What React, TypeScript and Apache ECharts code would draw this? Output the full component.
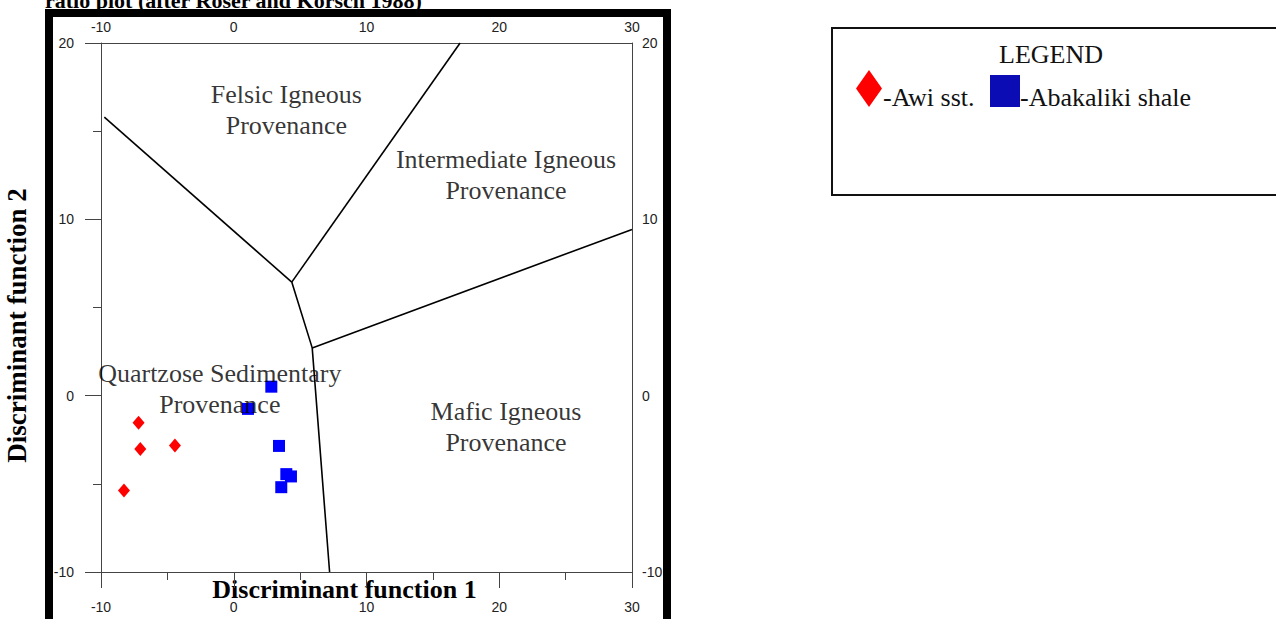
import { useEffect, useRef } from "react";
import * as echarts from "echarts";

// Axis ranges and tick step (tick labels -10..30 on X, -10..20 on Y)
const xRange: [number, number] = [-10, 30];
const yRange: [number, number] = [-10, 20];
const tickStep = 10;

// Sample points (Discriminant function 1, Discriminant function 2)
const awiSst: [number, number][] = [
  [-7.17, -1.53],
  [-7.04, -3.03],
  [-4.43, -2.83],
  [-8.27, -5.38],
];
const abakalikiShale: [number, number][] = [
  [2.83, 0.51],
  [1.07, -0.75],
  [3.41, -2.85],
  [3.96, -4.45],
  [4.31, -4.58],
  [3.58, -5.19],
];

// Field boundaries (Roser & Korsch 1988)
const felsicQuartzoseBoundary: [number, number][] = [
  [-9.75, 15.8],
  [4.37, 6.44],
];
const felsicIntermediateBoundary: [number, number][] = [
  [4.37, 6.44],
  [17.05, 20],
];
const sedimentaryMaficBoundary: [number, number][] = [
  [4.37, 6.44],
  [5.91, 2.71],
  [7.22, -10],
];
const intermediateMaficBoundary: [number, number][] = [
  [5.91, 2.71],
  [30, 9.43],
];

// Field names
const regionNames = [
  "Felsic Igneous\nProvenance",
  "Intermediate Igneous\nProvenance",
  "Quartzose Sedimentary\nProvenance",
  "Mafic Igneous\nProvenance",
];
const regionAnchors: [number, number][] = [
  [3.96, 16.22],
  [20.51, 12.53],
  [-1.05, 0.36],
  [20.51, -1.8],
];

const titleText = "ratio plot (after Roser and Korsch 1988)";
const xTitle = "Discriminant function 1";
const yTitle = "Discriminant function 2";
const seriesNames = ["Awi sst.", "Abakaliki shale"];

const SERIF = '"Times New Roman", "Liberation Serif", serif';
const SANS = 'Arial, "Liberation Sans", sans-serif';
const AXIS_COLOR = "#444";
const LABEL_COLOR = "#222";

export default function App() {
  const ref = useRef<HTMLDivElement>(null);

  useEffect(() => {
    if (!ref.current) return;
    const chart = echarts.init(ref.current, undefined, { renderer: "svg" });

    const labelStyle = {
      fontFamily: SANS,
      fontSize: 14,
      color: LABEL_COLOR,
    };

    const boundary = (data: [number, number][]) => ({
      type: "line",
      data,
      xAxisIndex: 0,
      yAxisIndex: 0,
      symbol: "none",
      lineStyle: { color: "#000", width: 1.6 },
      z: 3,
      silent: true,
    });

    chart.setOption({
      animation: false,
      backgroundColor: "#fff",
      grid: {
        left: 101,
        top: 43,
        right: 644,
        bottom: 47,
        containLabel: false,
        outerBoundsMode: "none",
      },
      xAxis: [
        {
          type: "value",
          position: "bottom",
          min: xRange[0],
          max: xRange[1],
          interval: tickStep,
          axisLine: { show: true, onZero: false, lineStyle: { color: AXIS_COLOR, width: 1 } },
          axisTick: { show: true, inside: false, length: 16, lineStyle: { color: AXIS_COLOR } },
          minorTick: { show: true, splitNumber: 2, length: 8, lineStyle: { color: AXIS_COLOR } },
          splitLine: { show: false },
          axisLabel: { ...labelStyle, margin: 28 },
          name: xTitle,
          nameLocation: "middle",
          nameGap: 4,
          nameMoveOverlap: false,
          nameTextStyle: {
            fontFamily: SERIF,
            fontWeight: "bold",
            fontSize: 26,
            color: "#000",
            padding: [0, 44, 0, 0],
          },
        },
        {
          type: "value",
          position: "top",
          min: xRange[0],
          max: xRange[1],
          interval: tickStep,
          axisLine: { show: true, onZero: false, lineStyle: { color: AXIS_COLOR, width: 1 } },
          axisTick: { show: false },
          splitLine: { show: false },
          axisLabel: { ...labelStyle, margin: 9 },
        },
      ],
      yAxis: [
        {
          type: "value",
          position: "left",
          min: yRange[0],
          max: yRange[1],
          interval: tickStep,
          axisLine: { show: true, onZero: false, lineStyle: { color: AXIS_COLOR, width: 1 } },
          axisTick: { show: true, inside: false, length: 16, lineStyle: { color: AXIS_COLOR } },
          minorTick: { show: true, splitNumber: 2, length: 8, lineStyle: { color: AXIS_COLOR } },
          splitLine: { show: false },
          axisLabel: { ...labelStyle, margin: 27 },
          name: yTitle,
          nameLocation: "middle",
          nameGap: 71,
          nameMoveOverlap: false,
          nameTextStyle: {
            fontFamily: SERIF,
            fontWeight: "bold",
            fontSize: 27,
            color: "#000",
            padding: [0, 36, 0, 0],
          },
        },
        {
          type: "value",
          position: "right",
          min: yRange[0],
          max: yRange[1],
          interval: tickStep,
          axisLine: { show: true, onZero: false, lineStyle: { color: AXIS_COLOR, width: 1 } },
          axisTick: { show: false },
          splitLine: { show: false },
          axisLabel: { ...labelStyle, margin: 10 },
        },
      ],
      series: [
        boundary(felsicQuartzoseBoundary),
        boundary(felsicIntermediateBoundary),
        boundary(sedimentaryMaficBoundary),
        boundary(intermediateMaficBoundary),
        {
          name: seriesNames[0],
          type: "scatter",
          xAxisIndex: 0,
          yAxisIndex: 0,
          data: awiSst,
          symbol: "diamond",
          symbolSize: [12, 14],
          itemStyle: { color: "#ff0000", opacity: 1 },
          z: 4,
        },
        {
          name: seriesNames[1],
          type: "scatter",
          xAxisIndex: 0,
          yAxisIndex: 0,
          data: abakalikiShale,
          symbol: "rect",
          symbolSize: 12,
          itemStyle: { color: "#0000ff", opacity: 1 },
          z: 4,
        },
        {
          name: "fields",
          type: "scatter",
          xAxisIndex: 0,
          yAxisIndex: 0,
          data: regionNames.map((n, i) => ({ name: n, value: regionAnchors[i] })),
          symbolSize: 1,
          itemStyle: { color: "rgba(0,0,0,0)" },
          silent: true,
          z: 6,
          label: {
            show: true,
            position: "inside",
            formatter: (p: any) => p.name,
            fontFamily: SERIF,
            fontSize: 26,
            lineHeight: 31,
            color: "#000",
            align: "center",
            verticalAlign: "middle",
          },
        },
      ],
      graphic: [
        {
          type: "text",
          x: 45,
          y: 0,
          style: {
            text: titleText,
            font: `bold 22px ${SERIF}`,
            fill: "#000",
            align: "left",
            verticalAlign: "middle",
          },
        },
        {
          type: "rect",
          shape: { x: 49, y: 13, width: 618, height: 610 },
          style: { fill: "none", stroke: "#000", lineWidth: 8 },
          z: 10,
        },
        {
          type: "rect",
          shape: { x: 832, y: 28, width: 460, height: 167 },
          style: { fill: "none", stroke: "#111", lineWidth: 2 },
        },
        {
          type: "text",
          x: 1051,
          y: 54.5,
          style: {
            text: "LEGEND",
            font: `26px ${SERIF}`,
            fill: "#111",
            align: "center",
            verticalAlign: "middle",
          },
        },
        {
          type: "polygon",
          shape: { points: [[869, 70], [882, 88.5], [869, 107], [856, 88.5]] },
          style: { fill: "#ff0000" },
        },
        {
          type: "text",
          x: 883,
          y: 97,
          style: {
            text: "-" + seriesNames[0],
            font: `26px ${SERIF}`,
            fill: "#111",
            align: "left",
            verticalAlign: "middle",
          },
        },
        {
          type: "rect",
          shape: { x: 990, y: 75, width: 30, height: 32 },
          style: { fill: "#0c0cb4" },
        },
        {
          type: "text",
          x: 1020,
          y: 97,
          style: {
            text: "-" + seriesNames[1],
            font: `26px ${SERIF}`,
            fill: "#111",
            align: "left",
            verticalAlign: "middle",
          },
        },
      ],
    });

    return () => chart.dispose();
  }, []);

  return (
    <div
      ref={ref}
      style={{ position: "fixed", left: 0, top: 0, width: 1276, height: 619, background: "#fff" }}
    />
  );
}
